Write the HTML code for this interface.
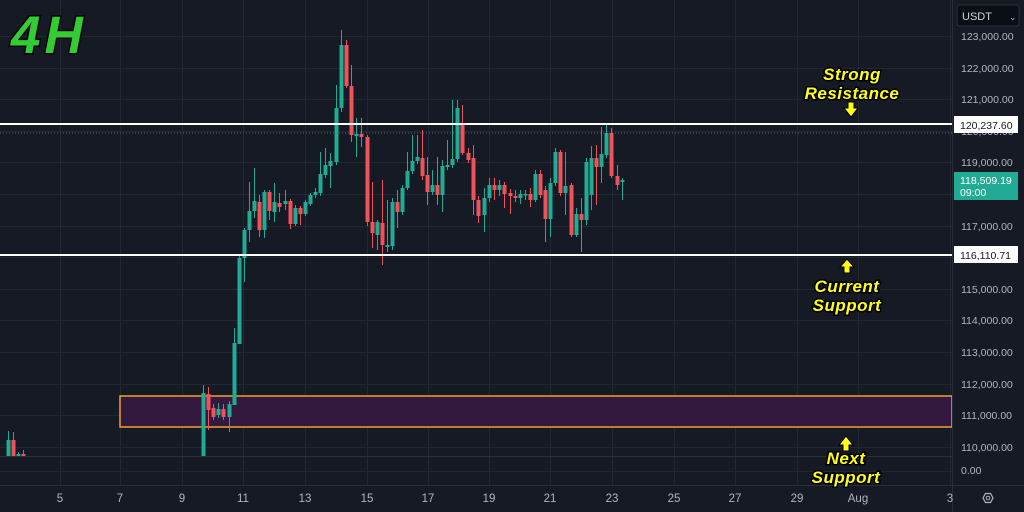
<!DOCTYPE html>
<html><head><meta charset="utf-8"><style>
html,body{margin:0;padding:0;background:#161a25;}
svg{display:block;}
text{font-family:"Liberation Sans",sans-serif;}
</style></head><body>
<svg id="s" width="1024" height="512" viewBox="0 0 1024 512" xmlns="http://www.w3.org/2000/svg">
<rect x="0" y="0" width="1024" height="512" fill="#161a25"/>
<g id="grid" stroke="#232734" stroke-width="1"></g>
<rect x="120" y="396" width="832" height="31" fill="#34193f" stroke="#f0a030" stroke-width="1.5"/>
<line x1="0" y1="133" x2="952" y2="133" stroke="#5d606b" stroke-width="1" stroke-dasharray="1,2"/>
<g id="c"></g>
<line x1="0" y1="124" x2="952" y2="124" stroke="#ffffff" stroke-width="2"/>
<line x1="0" y1="255" x2="952" y2="255" stroke="#ffffff" stroke-width="2"/>
<line x1="0" y1="456.5" x2="952" y2="456.5" stroke="#2a2e39"/>
<line x1="0" y1="485.5" x2="1024" y2="485.5" stroke="#2a2e39"/>
<line x1="952.5" y1="0" x2="952.5" y2="512" stroke="#2a2e39"/>
<g fill="#b2b5be" font-size="10.5">
<text x="961" y="40">123,000.00</text>
<text x="961" y="72">122,000.00</text>
<text x="961" y="103">121,000.00</text>
<text x="961" y="135">120,000.00</text>
<text x="961" y="166">119,000.00</text>
<text x="961" y="198">118,000.00</text>
<text x="961" y="230">117,000.00</text>
<text x="961" y="293">115,000.00</text>
<text x="961" y="324">114,000.00</text>
<text x="961" y="356">113,000.00</text>
<text x="961" y="388">112,000.00</text>
<text x="961" y="419">111,000.00</text>
<text x="961" y="451">110,000.00</text>
<text x="961" y="474">0.00</text>
</g>
<g id="dx" fill="#b2b5be" font-size="11.5" text-anchor="middle"></g>
<rect x="957" y="5" width="62" height="21" rx="3" fill="#0c0e15" stroke="#2a2e39"/>
<text x="962" y="20" fill="#d1d4dc" font-size="11">USDT</text>
<text x="1009" y="20" fill="#b2b5be" font-size="9">⌄</text>
<rect x="954" y="116" width="64" height="17" fill="#ffffff"/>
<text x="960" y="129" fill="#131722" font-size="10.5">120,237.60</text>
<rect x="954" y="246" width="64" height="17" fill="#ffffff"/>
<text x="960" y="259" fill="#131722" font-size="10.5">116,110.71</text>
<rect x="954" y="172" width="64" height="28" fill="#22ab94"/>
<text x="960" y="184" fill="#ffffff" font-size="10.5">118,509.19</text>
<text x="960" y="196" fill="#ffffff" font-size="10.5">09:00</text>
<polygon points="983,498 985.5,493.5 990.5,493.5 993,498 990.5,502.5 985.5,502.5" fill="none" stroke="#b2b5be" stroke-width="1.2"/>
<circle cx="988" cy="498" r="1.8" fill="none" stroke="#b2b5be" stroke-width="1"/>
<text x="11" y="53" font-size="53" font-weight="bold" font-style="italic" fill="#33cc33" stroke="#050505" stroke-width="3" letter-spacing="4" paint-order="stroke">4H</text>
<g font-size="17" font-weight="bold" font-style="italic" fill="#ffff1a" text-anchor="middle" stroke="#000" stroke-width="3" paint-order="stroke" letter-spacing="0.5">
<text x="852" y="80">Strong</text>
<text x="852" y="99">Resistance</text>
<text x="847" y="292">Current</text>
<text x="847" y="311">Support</text>
<text x="846" y="464">Next</text>
<text x="846" y="483">Support</text>
</g>
<g fill="#ffff1a" stroke="#000" stroke-width="1">
<polygon points="848,102 854,102 854,108 858,108 851,117 844,108 848,108"/>
<polygon points="844,273 850,273 850,267 854,267 847,259 840,267 844,267"/>
<polygon points="843,451 849,451 849,445 853,445 846,436 839,445 843,445"/>
</g>
</svg>
<script>
var NS="http://www.w3.org/2000/svg";
function el(p,n,a,t){var e=document.createElementNS(NS,n);for(var k in a)e.setAttribute(k,a[k]);if(t)e.textContent=t;document.getElementById(p).appendChild(e);}
function yp(p){return 36+(123000-p)/1000*31.6;}
for(var p=110000;p<=123000;p+=1000){var y=Math.round(yp(p))+0.5;el("grid","line",{x1:0,y1:y,x2:952,y2:y});}
el("grid","line",{x1:0,y1:471.5,x2:952,y2:471.5});
var dates=[["5",60],["7",120],["9",182],["11",243],["13",305],["15",367],["17",428],["19",489],["21",550],["23",612],["25",674],["27",735],["29",797],["Aug",858],["3",950]];
dates.forEach(function(d){el("grid","line",{x1:d[1]+0.5,y1:0,x2:d[1]+0.5,y2:485});el("dx","text",{x:d[1],y:502},d[0]);});
var G="#22ab94",R="#f0525a";
var C=[
[8,440,456,431,456,'g'],[13,440,456,432,456,'r'],[18,454,456,452,457,'g'],[23,454,456,450,457,'r'],
[203,393,456,385,456,'g'],[208,394,410,387,430,'r'],[213,408,417,404,420,'r'],[218,409,415,403,418,'g'],[223,409,417,404,420,'r'],[229,404,417,401,432,'g'],
[234,343,405,328,405,'g'],[239,258,344,256,344,'g'],[244,230,258,228,282,'g'],[249,211,230,182,242,'g'],[254,201,211,168,218,'g'],[259,202,230,195,237,'r'],
[264,192,230,190,238,'g'],[269,192,211,190,220,'r'],[274,202,212,183,222,'g'],[279,203,207,193,212,'r'],[285,201,204,190,210,'g'],[290,201,224,199,229,'r'],
[295,208,224,205,226,'g'],[300,208,214,206,225,'r'],[305,202,214,200,216,'g'],[310,195,204,193,206,'g'],[315,192,195,188,198,'g'],[320,174,193,152,196,'g'],
[325,165,175,148,178,'g'],[330,161,166,153,188,'g'],[336,108,162,85,165,'g'],[341,45,108,30,112,'g'],[346,45,86,40,88,'r'],[351,86,135,65,142,'r'],
[356,134,136,118,157,'g'],[361,134,137,118,147,'r'],[367,137,222,135,226,'r'],[372,222,233,182,248,'r'],[377,222,235,220,250,'g'],[382,223,245,180,265,'r'],
[387,245,247,200,252,'g'],[392,202,246,198,250,'g'],[397,202,212,190,228,'r'],[402,188,212,185,215,'g'],[407,171,188,152,190,'g'],[412,161,171,135,174,'g'],
[417,157,161,135,164,'g'],[422,158,176,130,180,'r'],[427,175,192,157,205,'r'],[432,185,192,170,195,'g'],[437,185,195,157,205,'r'],[442,166,195,160,212,'g'],
[447,165,167,140,170,'g'],[452,159,165,100,168,'g'],[457,108,159,100,162,'g'],[462,125,153,105,155,'r'],[468,153,160,148,163,'r'],[473,158,200,145,215,'r'],
[478,200,216,196,223,'r'],[484,198,215,188,232,'g'],[489,185,198,178,202,'g'],[494,185,190,178,200,'r'],[499,185,190,180,196,'g'],[504,185,194,182,208,'r'],
[510,193,196,189,214,'r'],[515,196,198,190,202,'r'],[520,194,198,190,204,'g'],[525,194,195,190,200,'g'],[530,194,200,188,207,'r'],[535,174,200,170,202,'g'],
[540,174,195,170,198,'r'],[545,190,219,186,242,'r'],[550,183,219,178,237,'g'],[555,152,183,148,186,'g'],[560,152,193,150,196,'r'],[565,186,193,152,215,'g'],
[571,185,235,183,237,'r'],[576,214,235,208,237,'g'],[581,214,220,198,252,'r'],[586,162,220,158,225,'g'],[591,158,195,146,210,'g'],[596,158,167,145,205,'r'],
[601,154,167,127,183,'g'],[606,133,155,125,158,'g'],[611,133,176,128,178,'r'],[617,176,185,165,190,'r'],[622,180,182,178,200,'g']];
C.forEach(function(c){var col=c[5]=='g'?G:R;
 el("c","line",{x1:c[0]+0.5,y1:c[3],x2:c[0]+0.5,y2:c[4],stroke:col,"stroke-width":1});
 el("c","rect",{x:c[0]-1.5,y:c[1],width:4,height:Math.max(1.5,c[2]-c[1]),fill:col});});
</script>
</body></html>
